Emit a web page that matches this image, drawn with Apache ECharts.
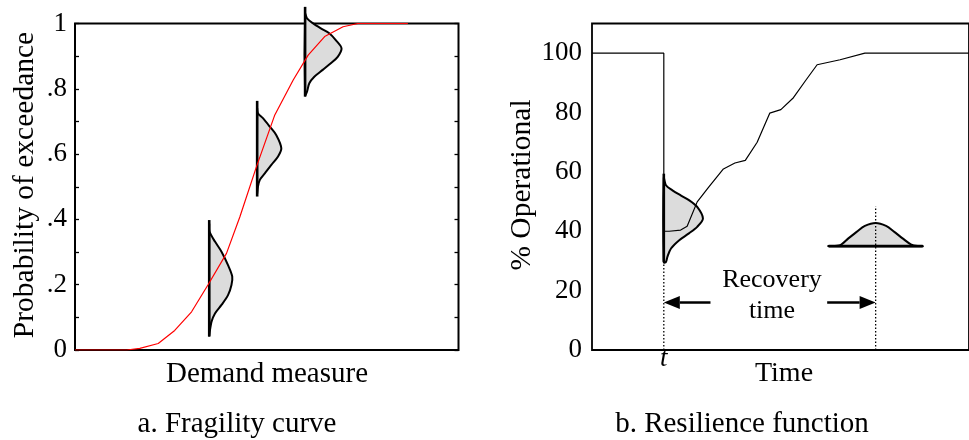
<!DOCTYPE html>
<html><head><meta charset="utf-8">
<script src="https://cdn.jsdelivr.net/npm/echarts@6/dist/echarts.min.js"></script>
<style>html,body{margin:0;padding:0;background:#fff}#c{width:969px;height:440px}</style>
</head><body><div id="c"></div>
<script>
const FONT = '"Liberation Serif", "Times New Roman", Times, serif';

// ---------- Panel a: fragility curve ----------
const fragDemand = [0, 13.5, 16.9, 21.7, 26, 30.4, 34.7, 39.5, 43, 47.3, 52.1, 56.9, 60.8, 65.1, 69.9, 73.8, 86.8];
const fragProb   = [0, 0, 0.005, 0.02, 0.06, 0.117, 0.2, 0.296, 0.408, 0.561, 0.72, 0.827, 0.903, 0.96, 0.99, 1, 1];
const fragTicks = [0, 0.2, 0.4, 0.6, 0.8, 1];
const fragTickLabels = ['0', '.2', '.4', '.6', '.8', '1'];

const fragDistBase   = [35.0, 47.5, 60.0];
const fragDistTop    = [0.398, 0.763, 1.051];
const fragDistBottom = [0.041, 0.470, 0.776];
const fragDist1X = [35.0, 35.1, 36.5, 38.2, 39.9, 41.0, 40.8, 39.9, 38.2, 36.5, 35.6, 35.2, 35.0];
const fragDist1Y = [0.385, 0.362, 0.332, 0.301, 0.260, 0.225, 0.199, 0.168, 0.138, 0.112, 0.087, 0.061, 0.045];
const fragDist2X = [47.5, 47.7, 49.0, 50.8, 52.5, 53.8, 52.9, 51.2, 49.5, 48.2, 47.7, 47.5];
const fragDist2Y = [0.74, 0.725, 0.710, 0.684, 0.658, 0.618, 0.592, 0.567, 0.541, 0.521, 0.500, 0.48];
const fragDist3X = [60.0, 60.5, 62.0, 64.1, 66.3, 68.0, 69.5, 68.5, 66.7, 64.6, 62.4, 61.1, 60.5, 60.0];
const fragDist3Y = [1.03, 1.016, 1.001, 0.985, 0.970, 0.949, 0.924, 0.898, 0.878, 0.858, 0.837, 0.817, 0.791, 0.78];
const fragDistX = [fragDist1X, fragDist2X, fragDist3X];
const fragDistY = [fragDist1Y, fragDist2Y, fragDist3Y];

// ---------- Panel b: resilience function ----------
const recTime = [-20, 0, 0, 1.5, 4.7, 6.5, 9.3, 12.5, 16.6, 19.8, 22.7, 26.0, 29.5, 32.6, 36.1, 39.5, 42.7, 49.1, 56.0, 85];
const recPct  = [100, 100, 40, 40, 40.4, 41.7, 49.9, 54.9, 61, 63, 63.9, 70, 79.8, 81, 85, 90.8, 96.1, 97.8, 100, 100];
const recTicks = [0, 20, 40, 60, 80, 100];

const recoveryStart = 0, recoveryEnd = 59;
const vDistX = [0, 0.6, 2.4, 4.7, 7.0, 9.3, 10.9, 9.3, 7.0, 4.3, 2.0, 1.0, 0.6, 0];
const vDistY = [58, 55.5, 53.8, 52.1, 50.5, 48.2, 44.3, 41.5, 39.3, 37.0, 34.2, 31.4, 29.7, 29.5];
const vDistTop = 59.4, vDistBottom = 29.7;
const hDistX = [45.9, 49.1, 51.4, 53.7, 56.0, 59.0, 61.9, 64.2, 66.5, 68.8, 70.7, 72.1];
const hDistY = [35.0, 35.3, 37.6, 39.8, 41.8, 42.8, 41.8, 39.8, 37.6, 35.6, 35.0, 35.0];
const hDistBase = 35.0;
const startDotTop = 29.7, endDotTop = 48.4;
const arrowY = 16, arrowLeftFrom = 13, arrowRightFrom = 45.5;

const zip = (a, b) => a.map((v, i) => [v, b[i]]);

const chart = echarts.init(document.getElementById('c'), null, {renderer: 'canvas'});

function distGroup(api, xs, ys, b1, b2) {
  const pts = xs.map((x, k) => api.coord([x, ys[k]]));
  const p1 = api.coord(b1), p2 = api.coord(b2);
  return {type: 'group', children: [
    {type: 'polygon', shape: {points: pts, smooth: 0.3},
     style: {fill: '#dcdcdc', stroke: '#000', lineWidth: 2, lineJoin: 'round'}},
    {type: 'line', shape: {x1: p1[0], y1: p1[1], x2: p2[0], y2: p2[1]},
     style: {stroke: '#000', lineWidth: 2.6}}
  ]};
}

const TITLE = '29px ' + FONT;
const option = {
  animation: false,
  backgroundColor: '#fff',
  grid: [
    {left: 75, top: 23.5, width: 383.5, height: 326.5, show: true, borderColor: '#000', borderWidth: 2, backgroundColor: 'transparent'},
    {left: 592, top: 23.5, width: 382, height: 326.5, show: true, borderColor: '#000', borderWidth: 1.8, backgroundColor: 'transparent'}
  ],
  xAxis: [
    {gridIndex: 0, type: 'value', min: 0, max: 100, axisLine: {show: false}, axisTick: {show: false}, axisLabel: {show: false}, splitLine: {show: false}},
    {gridIndex: 1, type: 'value', min: -20, max: 85, interval: 20,
     axisLine: {show: false}, axisTick: {show: false}, splitLine: {show: false},
     axisLabel: {show: true, margin: -5, fontFamily: FONT, fontStyle: 'italic', fontSize: 27, color: '#000',
                 showMinLabel: false, showMaxLabel: false,
                 formatter: v => (v === recoveryStart ? 't' : '')}}
  ],
  yAxis: [
    {gridIndex: 0, type: 'value', min: 0, max: 1, interval: 0.1,
     axisLine: {show: false}, splitLine: {show: false},
     axisTick: {show: true, inside: true, length: 4, lineStyle: {color: '#000', width: 1.3}},
     axisLabel: {margin: 8, fontFamily: FONT, fontSize: 27, color: '#000',
       formatter: v => { const i = fragTicks.findIndex(t => Math.abs(t - v) < 1e-6); return i >= 0 ? fragTickLabels[i] : ''; }}},
    {gridIndex: 0, type: 'value', position: 'right', min: 0, max: 1, interval: 0.1,
     axisLine: {show: false}, splitLine: {show: false}, axisLabel: {show: false},
     axisTick: {show: true, inside: true, length: 4, lineStyle: {color: '#000', width: 1.3}}},
    {gridIndex: 1, type: 'value', min: 0, max: 110, interval: 20,
     axisLine: {show: false}, splitLine: {show: false}, axisTick: {show: false},
     axisLabel: {margin: 10, fontFamily: FONT, fontSize: 27, color: '#000',
       formatter: v => (recTicks.indexOf(v) >= 0 ? String(v) : '')}}
  ],
  series: [
    {type: 'custom', xAxisIndex: 0, yAxisIndex: 0, z: 2, clip: false,
     data: fragDistBase.map((b, i) => [b, (fragDistTop[i] + fragDistBottom[i]) / 2]),
     renderItem: (params, api) => {
       const i = params.dataIndex;
       return distGroup(api, fragDistX[i], fragDistY[i], [fragDistBase[i], fragDistTop[i]], [fragDistBase[i], fragDistBottom[i]]);
     }},
    {type: 'line', xAxisIndex: 0, yAxisIndex: 0, z: 3, data: zip(fragDemand, fragProb), symbol: 'none',
     lineStyle: {color: '#ff0000', width: 1.2}},
    {type: 'custom', xAxisIndex: 1, yAxisIndex: 2, z: 2, clip: false,
     data: [[recoveryStart, (vDistTop + vDistBottom) / 2]],
     renderItem: (params, api) => distGroup(api, vDistX, vDistY, [recoveryStart, vDistTop], [recoveryStart, vDistBottom])},
    {type: 'custom', xAxisIndex: 1, yAxisIndex: 2, z: 2, clip: false,
     data: [[recoveryEnd, hDistBase]],
     renderItem: (params, api) => distGroup(api, hDistX, hDistY, [hDistX[0], hDistBase], [hDistX[hDistX.length - 1], hDistBase])},
    {type: 'line', xAxisIndex: 1, yAxisIndex: 2, z: 3, data: zip(recTime, recPct), symbol: 'none',
     lineStyle: {color: '#000', width: 1.2}},
    {type: 'line', xAxisIndex: 1, yAxisIndex: 2, z: 3, data: [[recoveryStart, 0], [recoveryStart, startDotTop]], symbol: 'none',
     lineStyle: {color: '#000', width: 1.3, type: [1.5, 2]}},
    {type: 'line', xAxisIndex: 1, yAxisIndex: 2, z: 3, data: [[recoveryEnd, 0], [recoveryEnd, endDotTop]], symbol: 'none',
     lineStyle: {color: '#000', width: 1.3, type: [1.5, 2]}},
    {type: 'custom', xAxisIndex: 1, yAxisIndex: 2, z: 4, clip: false,
     data: [[arrowLeftFrom, arrowY, recoveryStart], [arrowRightFrom, arrowY, recoveryEnd]],
     renderItem: (params, api) => {
       const from = api.coord([api.value(0), api.value(1)]);
       const tip = api.coord([api.value(2), api.value(1)]);
       const dir = tip[0] > from[0] ? 1 : -1;
       const hl = 16, hh = 6.5;
       const base = tip[0] - dir * hl;
       return {type: 'group', children: [
         {type: 'line', shape: {x1: from[0], y1: from[1], x2: base, y2: tip[1]}, style: {stroke: '#000', lineWidth: 2.5}},
         {type: 'polygon', shape: {points: [[tip[0], tip[1]], [base, tip[1] - hh], [base, tip[1] + hh]]}, style: {fill: '#000'}}
       ]};
     }}
  ],
  graphic: [
    {type: 'text', x: 25, y: 185, rotation: Math.PI / 2,
     style: {text: 'Probability of exceedance', font: '29.5px ' + FONT, fill: '#000', textAlign: 'center', textVerticalAlign: 'middle'}},
    {type: 'text', x: 267, y: 374,
     style: {text: 'Demand measure', font: TITLE, fill: '#000', textAlign: 'center', textVerticalAlign: 'middle'}},
    {type: 'text', x: 237, y: 424,
     style: {text: 'a. Fragility curve', font: TITLE, fill: '#000', textAlign: 'center', textVerticalAlign: 'middle'}},
    {type: 'text', x: 522, y: 185, rotation: Math.PI / 2,
     style: {text: '% Operational', font: '29.5px ' + FONT, fill: '#000', textAlign: 'center', textVerticalAlign: 'middle'}},
    {type: 'text', x: 784, y: 374,
     style: {text: 'Time', font: '28px ' + FONT, fill: '#000', textAlign: 'center', textVerticalAlign: 'middle'}},
    {type: 'text', x: 742, y: 424,
     style: {text: 'b. Resilience function', font: TITLE, fill: '#000', textAlign: 'center', textVerticalAlign: 'middle'}},
    {type: 'text', x: 772, y: 280,
     style: {text: 'Recovery', font: '26px ' + FONT, fill: '#000', textAlign: 'center', textVerticalAlign: 'middle'}},
    {type: 'text', x: 772, y: 311,
     style: {text: 'time', font: '26px ' + FONT, fill: '#000', textAlign: 'center', textVerticalAlign: 'middle'}}
  ]
};
chart.setOption(option);
</script></body></html>
